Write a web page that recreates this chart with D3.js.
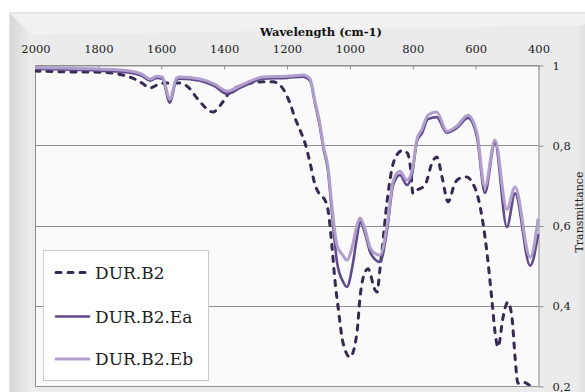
<!DOCTYPE html>
<html>
<head>
  <meta charset="utf-8">
  <title>Transmittance spectra</title>
  <script src="https://d3js.org/d3.v7.min.js"></script>
  <style>
    body { margin: 0; background: #fff; }
    svg { display: block; }
  </style>
</head>
<body>
  <svg id="chart"></svg>
  <script>
    // axis ticks
    const waveTicks = [2000, 1800, 1600, 1400, 1200, 1000, 800, 600, 400];
    const transTicks = [1, 0.8, 0.6, 0.4, 0.2];
    const seriesNames = ["DUR.B2", "DUR.B2.Ea", "DUR.B2.Eb"];

    // DUR.B2 (dashed) - wavenumber / transmittance
    const b2Wave = [2000, 1900, 1793, 1698, 1660, 1634, 1612, 1590, 1540, 1510, 1485, 1434, 1410, 1380, 1338, 1275, 1243, 1221, 1205, 1189, 1173, 1157, 1141, 1125, 1109, 1093, 1078, 1068, 1055, 1046, 1036, 1020, 998, 976, 966, 950, 941, 918, 912, 903, 896, 880, 865, 845, 830, 815, 805, 798, 785, 760, 735, 722, 705, 686, 664, 648, 626, 610, 591, 575, 562, 546, 537, 527, 511, 496, 483, 473, 464, 450, 435, 420, 400];
    const b2Trans = [0.985, 0.983, 0.982, 0.970, 0.955, 0.943, 0.950, 0.955, 0.955, 0.943, 0.918, 0.883, 0.900, 0.933, 0.950, 0.958, 0.958, 0.950, 0.933, 0.905, 0.868, 0.838, 0.805, 0.756, 0.701, 0.676, 0.664, 0.639, 0.545, 0.464, 0.397, 0.307, 0.272, 0.332, 0.422, 0.484, 0.492, 0.439, 0.434, 0.489, 0.539, 0.660, 0.740, 0.780, 0.787, 0.780, 0.740, 0.680, 0.688, 0.700, 0.760, 0.771, 0.720, 0.659, 0.706, 0.718, 0.721, 0.708, 0.671, 0.606, 0.530, 0.409, 0.336, 0.297, 0.372, 0.409, 0.372, 0.272, 0.207, 0.210, 0.206, 0.198, 0.190];

    // DUR.B2.Ea and DUR.B2.Eb share the same wavenumbers
    const eWave = [2000, 1800, 1698, 1660, 1634, 1612, 1595, 1571, 1550, 1539, 1475, 1430, 1389, 1348, 1326, 1275, 1198, 1147, 1125, 1109, 1093, 1083, 1068, 1055, 1039, 1020, 1008, 990, 976, 966, 950, 934, 918, 903, 880, 861, 839, 817, 800, 785, 769, 750, 722, 690, 658, 623, 594, 569, 537, 499, 473, 425, 400];
    const eaTrans = [0.990, 0.986, 0.981, 0.973, 0.961, 0.968, 0.966, 0.906, 0.963, 0.966, 0.961, 0.948, 0.928, 0.943, 0.951, 0.966, 0.968, 0.971, 0.961, 0.903, 0.843, 0.794, 0.736, 0.629, 0.507, 0.460, 0.447, 0.500, 0.570, 0.609, 0.580, 0.534, 0.515, 0.509, 0.589, 0.700, 0.726, 0.701, 0.730, 0.810, 0.830, 0.865, 0.870, 0.831, 0.843, 0.868, 0.820, 0.681, 0.806, 0.596, 0.680, 0.500, 0.576];
    const ebTrans = [0.994, 0.990, 0.985, 0.977, 0.965, 0.972, 0.970, 0.915, 0.967, 0.970, 0.965, 0.953, 0.935, 0.948, 0.956, 0.970, 0.972, 0.975, 0.965, 0.908, 0.850, 0.800, 0.745, 0.645, 0.550, 0.525, 0.514, 0.550, 0.600, 0.619, 0.590, 0.545, 0.530, 0.526, 0.600, 0.710, 0.735, 0.713, 0.740, 0.815, 0.840, 0.875, 0.883, 0.835, 0.848, 0.875, 0.830, 0.696, 0.813, 0.640, 0.696, 0.521, 0.614];

    const W = 585, H = 392;
    const plot = { left: 35, right: 538, top: 65, bottom: 386 };

    const svg = d3.select("#chart").attr("width", W).attr("height", H);

    // outer bevelled frame
    const defs = svg.append("defs");
    const lg = defs.append("linearGradient").attr("id", "leftBevel").attr("x1", 0).attr("x2", 1).attr("y1", 0).attr("y2", 0);
    lg.append("stop").attr("offset", "0%").attr("stop-color", "#d6d6d6");
    lg.append("stop").attr("offset", "100%").attr("stop-color", "#eeeeee");
    const rg = defs.append("linearGradient").attr("id", "rightBevel").attr("x1", 0).attr("x2", 1).attr("y1", 0).attr("y2", 0);
    rg.append("stop").attr("offset", "0%").attr("stop-color", "#ececec");
    rg.append("stop").attr("offset", "100%").attr("stop-color", "#d4d4d4");

    svg.append("rect").attr("x", 10).attr("y", 13).attr("width", 600).attr("height", 400)
      .attr("fill", "#ebebeb").attr("stroke", "#cdcdcd");
    svg.append("polygon").attr("points", "10.5,13.5 32,35 32,392 10.5,392").attr("fill", "url(#leftBevel)");
    svg.append("polygon").attr("points", "10.5,13.5 600,13.5 600,25 32,35").attr("fill", "#f1f1f1");
    svg.append("polygon").attr("points", "574,30 600,16 600,392 574,392").attr("fill", "url(#rightBevel)");

    // plot area
    svg.append("rect").attr("x", plot.left).attr("y", plot.top)
      .attr("width", plot.right - plot.left).attr("height", plot.bottom - plot.top)
      .attr("fill", "#fafafa");

    const x = d3.scaleLinear().domain([2000, 400]).range([plot.left, plot.right]);
    const y = d3.scaleLinear().domain([0.2, 1]).range([plot.bottom, plot.top]);

    // gridlines
    svg.append("g").selectAll("line").data(transTicks).join("line")
      .attr("x1", plot.left).attr("x2", plot.right)
      .attr("y1", d => Math.round(y(d)) + 0.5).attr("y2", d => Math.round(y(d)) + 0.5)
      .attr("stroke", "#8f8f8f").attr("stroke-width", 1);

    // left border
    svg.append("line").attr("x1", plot.left + 0.5).attr("x2", plot.left + 0.5)
      .attr("y1", plot.top).attr("y2", plot.bottom + 1)
      .attr("stroke", "#8f8f8f");

    const fontFam = "'DejaVu Serif', 'Liberation Serif', serif";

    // top axis
    const topAxis = svg.append("g").attr("transform", `translate(0.5,${plot.top + 0.5})`)
      .call(d3.axisTop(x).tickValues(waveTicks).tickSizeInner(-4).tickSizeOuter(0).tickPadding(13).tickFormat(d3.format("d")));
    topAxis.select(".domain").attr("stroke", "#8f8f8f");
    topAxis.selectAll(".tick line").attr("stroke", "#8f8f8f");
    topAxis.selectAll("text").attr("font-family", fontFam).attr("font-size", 11.5).attr("fill", "#222");

    // right axis
    const rightAxis = svg.append("g").attr("transform", `translate(${plot.right + 0.5},0.5)`)
      .call(d3.axisRight(y).tickValues(transTicks).tickSizeInner(5).tickSizeOuter(0).tickPadding(9)
        .tickFormat(d => d === 1 ? "1" : d3.format(".1f")(d).replace(".", ",")));
    rightAxis.select(".domain").attr("stroke", "#8f8f8f");
    rightAxis.selectAll(".tick line").attr("stroke", "#8f8f8f");
    rightAxis.selectAll("text").attr("font-family", fontFam).attr("font-size", 11.5).attr("fill", "#222");

    // axis titles
    svg.append("text").attr("x", 321).attr("y", 36).attr("text-anchor", "middle")
      .attr("font-family", fontFam).attr("font-size", 11.5).attr("font-weight", "bold").attr("fill", "#111")
      .text("Wavelength (cm-1)");
    svg.append("text").attr("transform", "translate(583,212) rotate(-90)").attr("text-anchor", "middle")
      .attr("font-family", fontFam).attr("font-size", 11).attr("fill", "#222")
      .text("Transmittance");

    // curves
    defs.append("clipPath").attr("id", "plotClip").append("rect")
      .attr("x", plot.left).attr("y", plot.top - 3).attr("width", plot.right - plot.left + 2).attr("height", plot.bottom - plot.top + 3);

    const line = d3.line().x(d => x(d[0])).y(d => y(d[1])).curve(d3.curveMonotoneX);
    const curves = svg.append("g").attr("clip-path", "url(#plotClip)");

    const b2Data = b2Wave.map((w, i) => [w, b2Trans[i]]);
    const eaData = eWave.map((w, i) => [w, eaTrans[i]]);
    const ebData = eWave.map((w, i) => [w, ebTrans[i]]);

    const styles = [
      { color: "#372a52", width: 3, dash: "5,7" },
      { color: "#5f4a8c", width: 2.6, dash: null },
      { color: "#b09fcc", width: 3, dash: null }
    ];

    [b2Data, eaData, ebData].forEach((data, i) => {
      curves.append("path").datum(data)
        .attr("fill", "none")
        .attr("stroke", styles[i].color)
        .attr("stroke-width", styles[i].width)
        .attr("stroke-linecap", "round")
        .attr("stroke-linejoin", "round")
        .attr("stroke-dasharray", styles[i].dash)
        .attr("d", line);
    });

    // legend
    const legend = svg.append("g");
    legend.append("rect").attr("x", 43.5).attr("y", 250.5).attr("width", 165).attr("height", 130)
      .attr("fill", "#ffffff").attr("stroke", "#c9c9c9");
    const legY = [272.5, 316.5, 359];
    seriesNames.forEach((name, i) => {
      legend.append("line").attr("x1", 56).attr("x2", 89).attr("y1", legY[i]).attr("y2", legY[i])
        .attr("stroke", styles[i].color).attr("stroke-width", styles[i].width)
        .attr("stroke-linecap", "round")
        .attr("stroke-dasharray", styles[i].dash);
      legend.append("text").attr("x", 95).attr("y", legY[i]).attr("dy", "0.36em")
        .attr("font-family", fontFam).attr("font-size", 17).attr("fill", "#222")
        .text(name);
    });
  </script>
</body>
</html>
